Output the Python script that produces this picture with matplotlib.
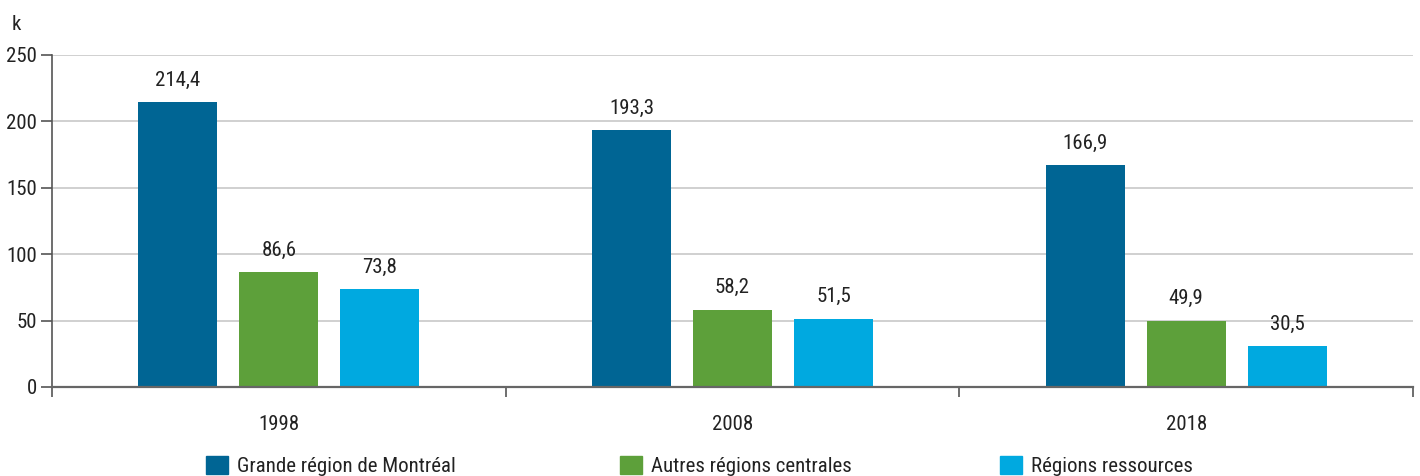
import matplotlib
matplotlib.use('Agg')
import matplotlib.pyplot as plt
from matplotlib.patches import Patch
import numpy as np

plt.rcParams['font.family'] = ['Roboto Condensed', 'Archivo Narrow', 'PT Sans Narrow',
                               'Liberation Sans Narrow', 'Roboto', 'DejaVu Sans']

# données
years = ['1998', '2008', '2018']
series_names = ['Grande région de Montréal', 'Autres régions centrales', 'Régions ressources']
montreal = [214.4, 193.3, 166.9]
centrales = [86.6, 58.2, 49.9]
ressources = [73.8, 51.5, 30.5]
colors = ['#006594', '#5DA03A', '#00A9E0']

fig = plt.figure(figsize=(14.2, 4.76), dpi=100)
ax = fig.add_axes([52 / 1420, 1 - 387 / 476, (1413 - 52) / 1420, (387 - 55) / 476])

x = np.arange(len(years))
width = 0.174
offset = 0.2226
for i, (vals, c) in enumerate(zip([montreal, centrales, ressources], colors)):
    bars = ax.bar(x + (i - 1) * offset, vals, width, color=c, zorder=3)
    for b, v in zip(bars, vals):
        ax.annotate(('%.1f' % v).replace('.', ','),
                    (b.get_x() + b.get_width() / 2, b.get_height()),
                    xytext=(0, 9), textcoords='offset points',
                    ha='center', va='bottom', fontsize=15, color='#222222')

ax.set_xlim(-0.5, 2.5)
ax.set_ylim(0, 250)
ax.set_yticks(range(0, 251, 50))
ax.yaxis.grid(True, color='#c8c8c8', linewidth=1.2, zorder=0)

# ticks aux séparations, étiquettes au centre
ax.set_xticks([-0.5, 0.5, 1.5, 2.5])
ax.set_xticklabels([])
ax.set_xticks(x, minor=True)
ax.set_xticklabels(years, minor=True, fontsize=15, color='#222222')
ax.tick_params(axis='x', which='major', length=7, width=1.2, color='#555555', direction='out')
ax.tick_params(axis='x', which='minor', length=0, pad=20)
ax.tick_params(axis='y', length=8, width=1.2, color='#555555', labelsize=15,
               labelcolor='#222222', pad=3)

for s in ['top', 'right']:
    ax.spines[s].set_visible(False)
ax.spines['left'].set_color('#555555')
ax.spines['left'].set_linewidth(1.2)
ax.spines['bottom'].set_color('#666666')
ax.spines['bottom'].set_linewidth(1.6)
ax.spines['bottom'].set_zorder(4)

fig.text(12 / 1420, 1 - 24 / 476, 'k', fontsize=15, color='#222222', va='center', ha='left')

# légende
leg_x = [206, 620, 1000]
for name, c, lx in zip(series_names, colors, leg_x):
    leg = fig.legend(handles=[Patch(color=c)], labels=[name], loc='center left',
                     bbox_to_anchor=(lx / 1420, 1 - 466 / 476), frameon=False,
                     fontsize=15, handlelength=1.05, handleheight=1.0,
                     handletextpad=0.45, borderpad=0, borderaxespad=0)
    for t in leg.get_texts():
        t.set_color('#222222')

fig.savefig('out.png', dpi=100)
